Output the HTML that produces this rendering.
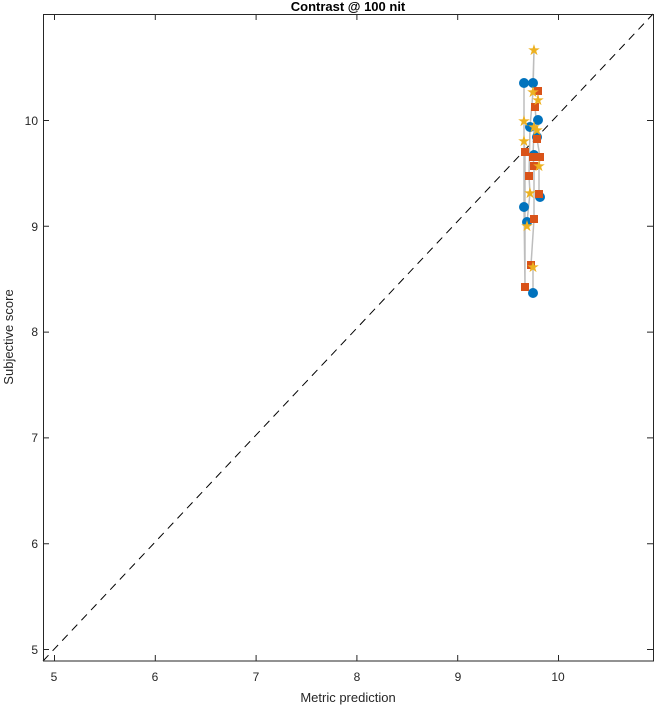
<!DOCTYPE html><html><head><style>body{margin:0;background:#fff}svg{font-family:"Liberation Sans",sans-serif}</style></head><body>
<svg width="656" height="708" xmlns="http://www.w3.org/2000/svg">
<rect width="656" height="708" fill="#fff"/>
<line x1="43" y1="661" x2="653" y2="14" stroke="#000" stroke-dasharray="8,6" stroke-width="1"/>
<g stroke="#262626" stroke-width="1" fill="none">
<rect x="43.5" y="14.5" width="610" height="646.5"/>
<path d="M54.5 661v-6M155.3 661v-6M256.1 661v-6M356.9 661v-6M457.7 661v-6M558.5 661v-6M54.5 14v6M155.3 14v6M256.1 14v6M356.9 14v6M457.7 14v6M558.5 14v6"/>
<path d="M43 649.5h6M43 543.7h6M43 437.9h6M43 332.1h6M43 226.3h6M43 120.5h6M653 649.5h-6M653 543.7h-6M653 437.9h-6M653 332.1h-6M653 226.3h-6M653 120.5h-6"/>
</g>
<g font-size="12" fill="#262626" text-anchor="middle">
<text x="54" y="681">5</text><text x="155" y="681">6</text><text x="256" y="681">7</text><text x="357" y="681">8</text><text x="458" y="681">9</text><text x="558" y="681">10</text>
</g>
<g font-size="12" fill="#262626" text-anchor="end">
<text x="38" y="654">5</text><text x="38" y="548">6</text><text x="38" y="442">7</text><text x="38" y="336">8</text><text x="38" y="231">9</text><text x="38" y="125">10</text>
</g>
<text x="348" y="702" font-size="13" text-anchor="middle" fill="#262626">Metric prediction</text>
<text transform="translate(13,337) rotate(-90)" font-size="13" text-anchor="middle" fill="#262626">Subjective score</text>
<text x="348" y="11" font-size="13" font-weight="bold" text-anchor="middle" fill="#000">Contrast @ 100 nit</text>
<g stroke="#bdbdbd" stroke-width="1.5" fill="none">
<polyline points="524,83 524,207 525,287 525,152 524,141 524,121"/>
<polyline points="533,83 534,50 533,92 530,127 529,176 530,193 527,222 527,226"/>
<polyline points="533,293 533,267 531,265 534,219 534,166 533,157 534,155"/>
<polyline points="538,91 538,100 535,107 537,130 537,137 537,139 540,157 539,166 539,194 540,197"/>
<polyline points="538,120 534,127 533,157"/>
</g>
<g fill="#0072BD">
<circle cx="524" cy="83" r="5"/><circle cx="533" cy="83" r="5"/><circle cx="538" cy="120" r="5"/><circle cx="530" cy="127" r="5"/><circle cx="537" cy="137" r="5"/><circle cx="534" cy="155" r="5"/><circle cx="540" cy="197" r="5"/><circle cx="524" cy="207" r="5"/><circle cx="527" cy="222" r="5"/><circle cx="533" cy="293" r="5"/>
</g>
<g fill="#D95319">
<rect x="534" y="87" width="8" height="8"/><rect x="531" y="103" width="8" height="8"/><rect x="533" y="135" width="8" height="8"/><rect x="521" y="148" width="8" height="8"/><rect x="529" y="153" width="8" height="8"/><rect x="536" y="153" width="8" height="8"/><rect x="530" y="162" width="8" height="8"/><rect x="525" y="172" width="8" height="8"/><rect x="535" y="190" width="8" height="8"/><rect x="530" y="215" width="8" height="8"/><rect x="527" y="261" width="8" height="8"/><rect x="521" y="283" width="8" height="8"/>
</g>
<g fill="#EDB120" font-size="15" text-anchor="middle">
<text x="534" y="55">★</text><text x="533" y="97">★</text><text x="538" y="105">★</text><text x="524" y="126">★</text><text x="534" y="132">★</text><text x="537" y="135">★</text><text x="524" y="146">★</text><text x="539" y="171">★</text><text x="530" y="198">★</text><text x="527" y="231">★</text><text x="533" y="272">★</text>
</g>
</svg></body></html>
